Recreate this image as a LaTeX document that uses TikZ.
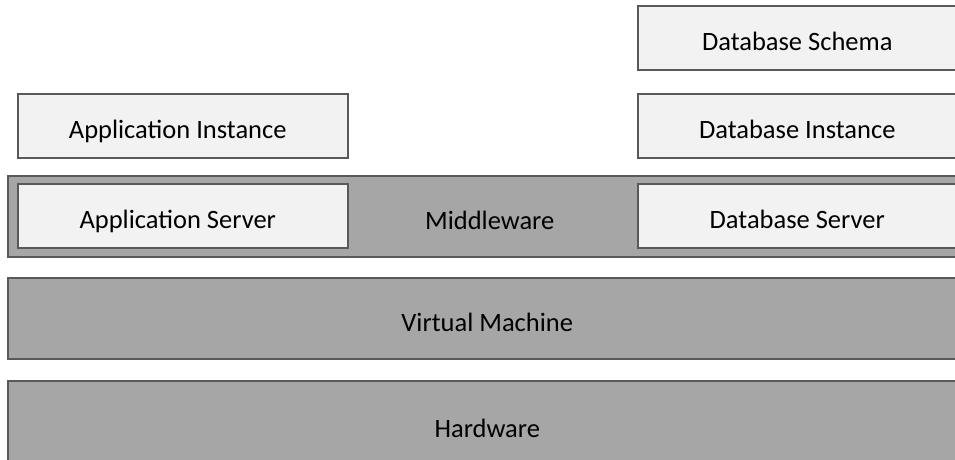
\documentclass[tikz,border=0pt]{standalone}
\usepackage{fontspec}
\setmainfont{Carlito}
\definecolor{lightfill}{HTML}{F2F2F2}
\definecolor{darkfill}{HTML}{A6A6A6}
\definecolor{edge}{HTML}{595959}
\begin{document}
\begin{tikzpicture}[x=1pt,y=-1pt,
  box/.style={draw=edge,line width=1.5pt,rectangle,inner sep=0pt,anchor=north west,
    text height=26pt,text depth=0pt,font=\fontsize{26.5}{30}\selectfont},
  lightbox/.style={box,fill=lightfill,execute at end node={\hspace*{10pt}}},
  darkbox/.style={box,fill=darkfill}]
\useasboundingbox (0,0) rectangle (955,459);
\clip (0,0) rectangle (955,459);
\node[darkbox,minimum width=959pt,minimum height=81pt,execute at begin node={\hspace*{5pt}}] (mw) at (7,175) {Middleware};
\node[darkbox,minimum width=959pt,minimum height=81pt] (vm) at (7,277) {Virtual Machine};
\node[darkbox,minimum width=959pt,minimum height=88pt] (hw) at (7,380) {Hardware};
\node[lightbox,minimum width=330pt,minimum height=64pt] (appinst) at (17,93) {Application Instance};
\node[lightbox,minimum width=330pt,minimum height=64pt] (appsrv) at (17,183) {Application Server};
\node[lightbox,minimum width=329pt,minimum height=64pt] (dbschema) at (637,5) {Database Schema};
\node[lightbox,minimum width=329pt,minimum height=64pt] (dbinst) at (637,93) {Database Instance};
\node[lightbox,minimum width=329pt,minimum height=64pt] (dbsrv) at (637,183) {Database Server};
\end{tikzpicture}
\end{document}
